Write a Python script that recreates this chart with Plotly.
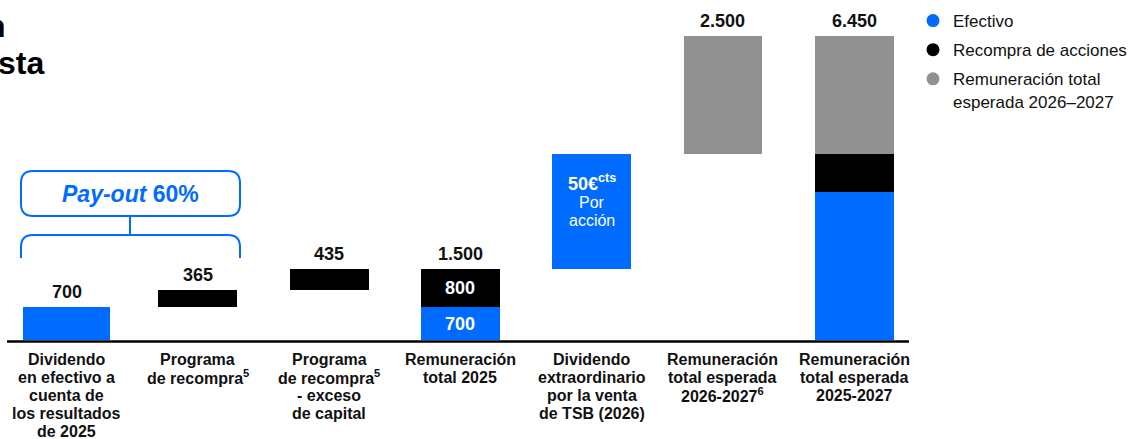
"""Waterfall of shareholder remuneration 2025-2027 (cash, buybacks, expected)."""

import plotly.graph_objects as go

# ---- data -----------------------------------------------------------------
categories = [
    "Dividendo<br>en efectivo a<br>cuenta de<br>los resultados<br>de 2025",
    "Programa<br>de recompra<sup>5</sup>",
    "Programa<br>de recompra<sup>5</sup><br>- exceso<br>de capital",
    "Remuneración<br>total 2025",
    "Dividendo<br>extraordinario<br>por la venta<br>de TSB (2026)",
    "Remuneración<br>total esperada<br>2026-2027<sup>6</sup>",
    "Remuneración<br>total esperada<br>2025-2027",
]

cash_x = [0, 3, 4, 6]
cash_vals = [700, 700, 2450, 3150]
cash_base = [0, 0, 1500, 0]

buyback_x = [1, 2, 3, 6]
buyback_vals = [365, 435, 800, 800]
buyback_base = [700, 1065, 700, 3150]

expected_x = [5, 6]
expected_vals = [2500, 2500]
expected_base = [3950, 3950]

top_label_x = [0, 1, 2, 3, 5, 6]       # bars that carry a total on top
inner_label_x = 3                       # stacked bar with values written inside
per_share_x = 4
per_share_text = ["<b>50€<sup>cts</sup></b>", "Por", "acción"]
payout_text = "<i>Pay-out</i> 60%"
legend_names = ["Efectivo", "Recompra de acciones", "Remuneración total<br>esperada 2026–2027"]

# ---- style ----------------------------------------------------------------
BLUE = "#006CFF"
BLACK = "#000000"
GREY = "#919191"
TXT = "#111111"
FONT = "Liberation Sans, Arial, sans-serif"

W, H = 1144, 439
ML, MR, MT, MB = 0, 238, 10, 99
PW, PH = W - ML - MR, H - MT - MB
X0, DX = 66.6, 131.27          # pixel centre of first bar, bar spacing
K = 304 / 6450                  # pixels per unit


def es(v):
    return f"{v:,}".replace(",", ".")


def pp(px, py):
    """pixel -> paper coordinates"""
    return px / PW, (MT + PH - py) / PH


def path(points):
    out = []
    for cmd, *pts in points:
        out.append(cmd + " ".join("%.5f,%.5f" % pp(px, py) for px, py in pts))
    return " ".join(out)


def widths(xs):
    return [0.66 if x == 0 else 0.6 for x in xs]


segments = [(cash_x, cash_vals, cash_base, BLUE),
            (buyback_x, buyback_vals, buyback_base, BLACK),
            (expected_x, expected_vals, expected_base, GREY)]

fig = go.Figure()
for xs, vals, base, col in segments:
    fig.add_trace(go.Bar(x=xs, y=vals, base=base, width=widths(xs),
                         marker_color=col, marker_line_width=0, showlegend=False))

# legend entries with round markers
for i, (name, col) in enumerate(zip(legend_names, [BLUE, BLACK, GREY])):
    fig.add_trace(go.Scatter(x=[None], y=[None], mode="markers", name=name, legendgroup=str(i),
                             marker=dict(color=col, size=13, symbol="circle")))

# totals above bars
for x in top_label_x:
    total = sum(v for xs, vals, _, _ in segments for xx, v in zip(xs, vals) if xx == x)
    top = max(b + v for xs, vals, base, _ in segments for xx, v, b in zip(xs, vals, base) if xx == x)
    fig.add_annotation(x=x, y=top, text=es(total), showarrow=False, yanchor="middle", yshift=15,
                       font=dict(family=FONT, size=18, color=TXT, weight="bold"))

# values inside the stacked 2025 bar
for xs, vals, base, _ in segments:
    for xx, v, b in zip(xs, vals, base):
        if xx == inner_label_x:
            fig.add_annotation(x=xx, y=b + v / 2, text=es(v), showarrow=False,
                               font=dict(family=FONT, size=18, color="white", weight="bold"))

# per-share text inside the extraordinary dividend bar
i5 = cash_x.index(per_share_x)
top5 = cash_base[i5] + cash_vals[i5]
for txt, dy, size in zip(per_share_text, [-29, -49, -67], [18, 16, 16]):
    fig.add_annotation(x=per_share_x, y=top5, yanchor="middle", yshift=dy, text=txt,
                       showarrow=False, font=dict(family=FONT, size=size, color="white"))

# category labels (drawn line by line for tight leading)
for i, cat in enumerate(categories):
    for j, line in enumerate(cat.split("<br>")):
        _, ly = pp(0, 359 + 18 * j)
        fig.add_annotation(x=i, y=ly, yref="paper", yanchor="middle", xanchor="center",
                           text=line, showarrow=False,
                           font=dict(family=FONT, size=16, color=TXT, weight="bold"))

# Pay-out box and brace
x0, x1, y0, y1, r = 21, 240, 171, 216, 12
blue_line = dict(color=BLUE, width=2)
fig.add_shape(type="path", xref="paper", yref="paper", line=blue_line,
              path=path([("M", (x0 + r, y0)), ("L", (x1 - r, y0)), ("Q", (x1, y0), (x1, y0 + r)),
                         ("L", (x1, y1 - r)), ("Q", (x1, y1), (x1 - r, y1)),
                         ("L", (x0 + r, y1)), ("Q", (x0, y1), (x0, y1 - r)),
                         ("L", (x0, y0 + r)), ("Q", (x0, y0), (x0 + r, y0))]) + " Z")
fig.add_shape(type="path", xref="paper", yref="paper", line=blue_line,
              path=path([("M", (130, y1)), ("L", (130, 235))]))
fig.add_shape(type="path", xref="paper", yref="paper", line=blue_line,
              path=path([("M", (x0, 258)), ("L", (x0, 247)), ("Q", (x0, 235), (x0 + r, 235)),
                         ("L", (x1 - r, 235)), ("Q", (x1, 235), (x1, 247)), ("L", (x1, 258))]))
bx, by = pp(130, 194)
fig.add_annotation(x=bx, y=by, xref="paper", yref="paper", xanchor="center", yanchor="middle",
                   showarrow=False, text=payout_text,
                   font=dict(family=FONT, size=23, color=BLUE, weight="bold"))

# baseline
ax0, ay = pp(7, 341.5)
ax1, _ = pp(909, 341.5)
fig.add_shape(type="line", xref="paper", yref="paper", x0=ax0, x1=ax1, y0=ay, y1=ay,
              line=dict(color=BLACK, width=2.5))

# clipped title fragments at the left edge
for txt, px, py in [("n", 8, 26), ("sta", 46, 63)]:
    tx, ty = pp(px, py)
    fig.add_annotation(x=tx, y=ty, xref="paper", yref="paper", xanchor="right", yanchor="middle",
                       text=txt, showarrow=False,
                       font=dict(family=FONT, size=32, color=BLACK, weight="bold"))

fig.update_layout(
    width=W, height=H,
    margin=dict(l=ML, r=MR, t=MT, b=MB, autoexpand=False),
    paper_bgcolor="white", plot_bgcolor="white",
    barmode="overlay", bargap=0,
    font=dict(family=FONT, color=TXT),
    xaxis=dict(range=[-X0 / DX, (PW - X0) / DX], showticklabels=False, automargin=False,
               showgrid=False, zeroline=False, showline=False, ticks=""),
    yaxis=dict(range=[0, PH / K], visible=False, showgrid=False, zeroline=False),
    legend=dict(x=913 / PW, y=1.021, xanchor="left", yanchor="top", valign="top",
                traceorder="grouped", tracegroupgap=4,
                font=dict(family=FONT, size=17, color=TXT),
                itemsizing="trace", bgcolor="rgba(0,0,0,0)"),
)

# drop the page's default body margin so the figure sits at the window corner
fig.write_html("out.html", config={"displayModeBar": False},
               post_script="document.body.style.margin = '0';")
